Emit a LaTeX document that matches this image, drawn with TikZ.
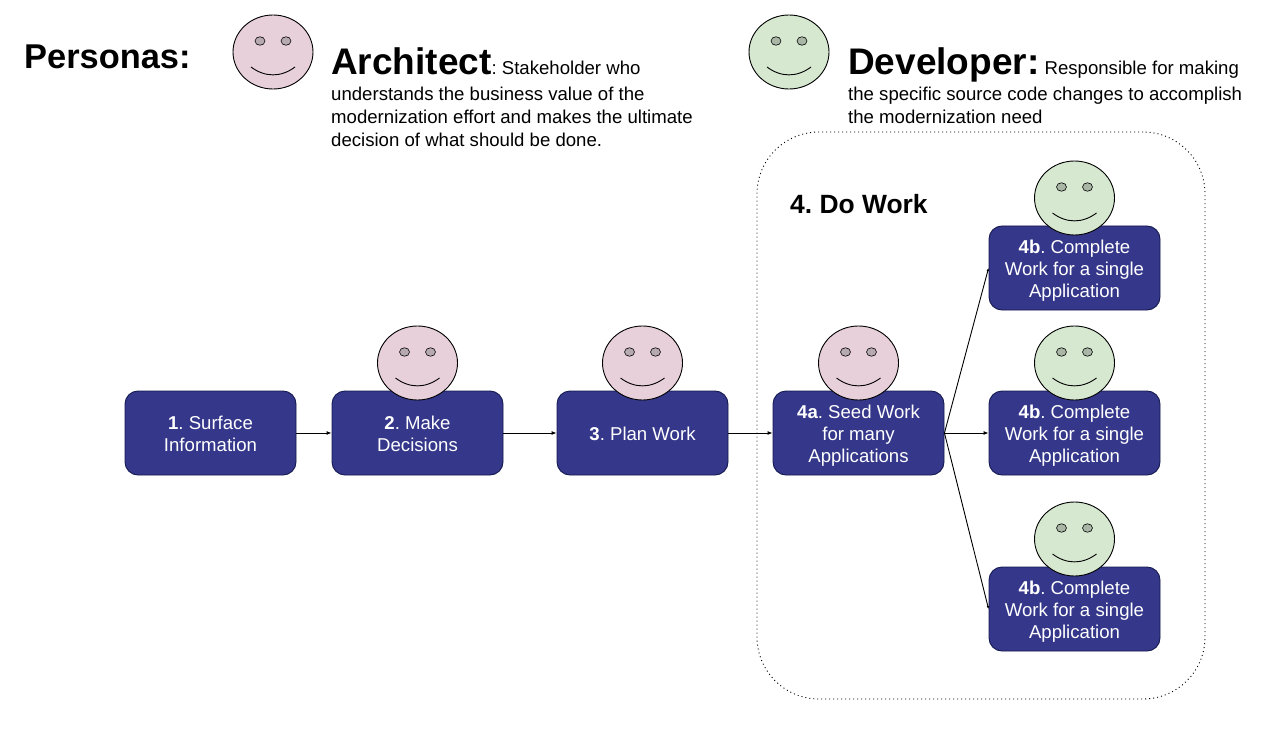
\documentclass[tikz,border=0pt]{standalone}
\usepackage{fontspec}
\setmainfont{Liberation Sans}
\usetikzlibrary{shapes.geometric,arrows.meta}
\definecolor{boxblue}{HTML}{35378A}
\definecolor{boxedge}{HTML}{141A50}
\definecolor{archpink}{HTML}{E8D0DB}
\definecolor{devgreen}{HTML}{D6E8D0}
\definecolor{eyegrey}{HTML}{B7A9B0}
\definecolor{eyegreen}{HTML}{A9B5A5}
\newcommand{\bodysize}{\fontsize{18.6}{22}\selectfont\frenchspacing}
\newcommand{\descsize}{\fontsize{18.6}{23}\selectfont\frenchspacing}
\newcommand{\bl}{\rule[-4pt]{0pt}{22pt}}
\tikzset{
  x=1pt,y=-1pt,
  stepbox/.style={draw=boxedge,fill=boxblue,text=white,rounded corners=13pt,minimum width=171pt,minimum height=84pt,inner sep=0pt,align=center,font=\bodysize,line width=0.9pt},
  face/.style={draw=black,ellipse,minimum width=80pt,minimum height=74pt,inner sep=0pt,line width=0.9pt},
  flow/.style={draw=black,line width=0.9pt,-{Latex[length=5pt,width=4pt]}},
  fanflow/.style={draw=black,line width=0.9pt,-{Latex[length=3pt,width=2.5pt]}},
  desc/.style={anchor=north west,align=left,font=\descsize,inner sep=0pt,text=black},
}
\newcommand{\smiley}[5]{% name, x, y, fill, eye fill
  \node[face,fill=#4] (#1) at (#2,#3) {};
  \node[draw=black,fill=#5,ellipse,minimum width=10pt,minimum height=8.5pt,inner sep=0pt,line width=0.6pt] (#1l) at ([xshift=-13pt,yshift=11pt]#1.center) {};
  \node[draw=black,fill=#5,ellipse,minimum width=10pt,minimum height=8.5pt,inner sep=0pt,line width=0.6pt] (#1r) at ([xshift=13pt,yshift=11pt]#1.center) {};
  \draw[line width=0.9pt] ([xshift=-22pt,yshift=-15pt]#1.center) .. controls ([xshift=-8pt,yshift=-25.5pt]#1.center) and ([xshift=8pt,yshift=-25.5pt]#1.center) .. ([xshift=22pt,yshift=-15pt]#1.center);
}
\begin{document}
\begin{tikzpicture}
\useasboundingbox (0,0) rectangle (1285,738);
\fill[white] (0,0) rectangle (1285,738);
\node[draw=black,dash pattern=on 1pt off 3pt,rounded corners=62pt,minimum width=448pt,minimum height=567pt,line width=0.9pt] (group) at (981,415.5) {};
\node[anchor=base west,inner sep=0pt,font=\fontsize{34.4}{40}\selectfont\bfseries] (personas) at (24,69) {Personas:};
\node[desc] (archtext) at (331,47) {{\fontsize{37}{44}\selectfont\bfseries Architect}: Stakeholder who\\[3.5pt]understands the business value of the\\modernization effort and makes the ultimate\\decision of what should be done.};
\node[desc] (devtext) at (848,47) {{\fontsize{37}{44}\selectfont\bfseries Developer:} Responsible for making\\[3.5pt]the specific source code changes to accomplish\\the modernization need};
\node[anchor=base west,inner sep=0pt,font=\fontsize{26.4}{32}\selectfont\bfseries\frenchspacing] (dowork) at (790,214) {4. Do Work};
\node[stepbox] (s1) at (210.5,433) {\bl\textbf{1}. Surface\\\bl Information};
\node[stepbox] (s2) at (417.5,433) {\bl\textbf{2}. Make\\\bl Decisions};
\node[stepbox] (s3) at (642.5,433) {\bl\textbf{3}. Plan Work};
\node[stepbox] (s4a) at (858.5,433) {\bl\textbf{4a}. Seed Work\\for many\\\bl Applications};
\node[stepbox] (s4b1) at (1074.5,268) {\bl\textbf{4b}. Complete\\Work for a single\\\bl Application};
\node[stepbox] (s4b2) at (1074.5,433) {\bl\textbf{4b}. Complete\\Work for a single\\\bl Application};
\node[stepbox] (s4b3) at (1074.5,609) {\bl\textbf{4b}. Complete\\Work for a single\\\bl Application};
\draw[flow] (s1) -- (s2);
\draw[flow] (s2) -- (s3);
\draw[flow] (s3) -- (s4a);
\draw[fanflow] (s4a.east) -- (s4b1.west);
\draw[flow] (s4a.east) -- (s4b2.west);
\draw[fanflow] (s4a.east) -- (s4b3.west);
\smiley{parch}{273}{52}{archpink}{eyegrey}
\smiley{pdev}{789}{52}{devgreen}{eyegreen}
\smiley{f2}{417.5}{363}{archpink}{eyegrey}
\smiley{f3}{642.5}{363}{archpink}{eyegrey}
\smiley{f4a}{858.5}{363}{archpink}{eyegrey}
\smiley{f4b1}{1074.5}{198}{devgreen}{eyegreen}
\smiley{f4b2}{1074.5}{363}{devgreen}{eyegreen}
\smiley{f4b3}{1074.5}{539}{devgreen}{eyegreen}
\end{tikzpicture}
\end{document}
